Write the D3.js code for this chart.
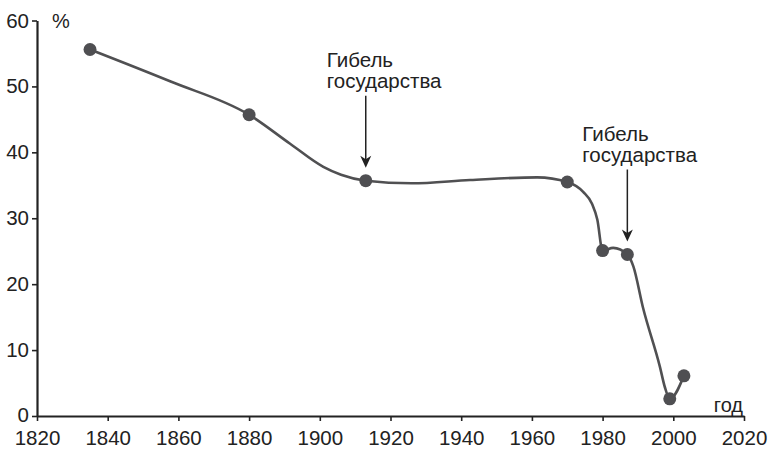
<!DOCTYPE html>
<html>
<head>
<meta charset="utf-8">
<script src="https://cdn.jsdelivr.net/npm/d3@7"></script>
<style>
  body { margin: 0; background: #fff; }
  svg text { font-family: "Liberation Sans", Arial, sans-serif; fill: #222; }
</style>
</head>
<body>
<div id="chart"></div>
<script>
// точки с маркерами
const years = [1835, 1880, 1913, 1970, 1980, 1987, 1999, 2003];
const values = [55.6, 45.7, 35.7, 35.5, 25.1, 24.5, 2.6, 6.1];

// промежуточные точки кривой
const curveYears = [1835, 1858, 1880, 1891.6, 1901, 1906, 1913, 1926, 1942.5, 1961.5, 1970,
  1974.5, 1977, 1978.5, 1980, 1983, 1987, 1988.7, 1991.4, 1996.2, 1997.6, 1999, 2003];
const curveValues = [55.6, 50.7, 45.7, 41.3, 37.8, 36.6, 35.7, 35.3, 35.8, 36.2, 35.5,
  34.0, 32.2, 29.8, 25.1, 25.5, 24.5, 22.7, 16.5, 7.5, 4.4, 2.6, 6.1];

const xTicks = [1820, 1840, 1860, 1880, 1900, 1920, 1940, 1960, 1980, 2000, 2020];
const yTicks = [0, 10, 20, 30, 40, 50, 60];

const notes = [
  { year: 1913, lines: ['Гибель', 'государства'], shift: 39 },
  { year: 1987, lines: ['Гибель', 'государства'], shift: 45 }
];

const width = 771, height = 449;

const svg = d3.select('#chart').append('svg')
  .attr('width', width)
  .attr('height', height);

const x = d3.scaleLinear().domain([1820, 2020]).range([37, 744]);
const y = d3.scaleLinear().domain([0, 60]).range([416, 20.5]);

// оси
const gx = svg.append('g')
  .attr('transform', `translate(0,${y(0)})`)
  .call(d3.axisBottom(x).tickValues(xTicks).tickFormat(d3.format('d'))
    .tickSize(5).tickSizeOuter(0).tickPadding(9));

const gy = svg.append('g')
  .attr('transform', `translate(${x(1820)},0)`)
  .call(d3.axisLeft(y).tickValues(yTicks).tickSize(5).tickSizeOuter(0).tickPadding(3));

[gx, gy].forEach(g => {
  g.select('.domain').attr('stroke', '#222').attr('stroke-width', 2.2);
  g.selectAll('.tick line').attr('stroke', '#222').attr('stroke-width', 1.6);
  g.selectAll('.tick text').style('font-size', '20.5px').attr('fill', '#222');
});
// ноль чуть выше, чтобы не касался подписи 1820
gy.selectAll('.tick text').filter(d => d === 0).attr('y', -1.5);

svg.append('text')
  .attr('x', 52).attr('y', 28)
  .style('font-size', '20px')
  .text('%');

svg.append('text')
  .attr('x', 743).attr('y', 411.5)
  .attr('text-anchor', 'end')
  .style('font-size', '20px')
  .text('год');

// кривая
const curveData = curveYears.map((d, i) => [d, curveValues[i]]);
const line = d3.line()
  .x(d => x(d[0]))
  .y(d => y(d[1]))
  .curve(d3.curveMonotoneX);

svg.append('path')
  .datum(curveData)
  .attr('d', line)
  .attr('fill', 'none')
  .attr('stroke', '#505052')
  .attr('stroke-width', 2.6);

svg.selectAll('circle.pt')
  .data(years.map((d, i) => [d, values[i]]))
  .join('circle')
  .attr('class', 'pt')
  .attr('cx', d => x(d[0]))
  .attr('cy', d => y(d[1]))
  .attr('r', 6.5)
  .attr('fill', '#4f4f52');

// подписи со стрелками
notes.forEach(n => {
  const i = years.indexOf(n.year);
  const ax = x(n.year);
  const tip = y(values[i]) - 13;
  const textX = ax - n.shift;
  const base = tip - 101;

  const t = svg.append('text')
    .attr('x', textX)
    .attr('y', base)
    .style('font-size', '20.5px');
  n.lines.forEach((l, k) => {
    t.append('tspan').attr('x', textX).attr('dy', k === 0 ? 0 : 21.5).text(l);
  });

  svg.append('line')
    .attr('x1', ax).attr('x2', ax)
    .attr('y1', base + 29).attr('y2', tip - 6)
    .attr('stroke', '#222')
    .attr('stroke-width', 1.5);

  svg.append('path')
    .attr('d', `M${ax},${tip} L${ax - 5.5},${tip - 12} L${ax},${tip - 8.5} L${ax + 5.5},${tip - 12} Z`)
    .attr('fill', '#222');
});
</script>
</body>
</html>
